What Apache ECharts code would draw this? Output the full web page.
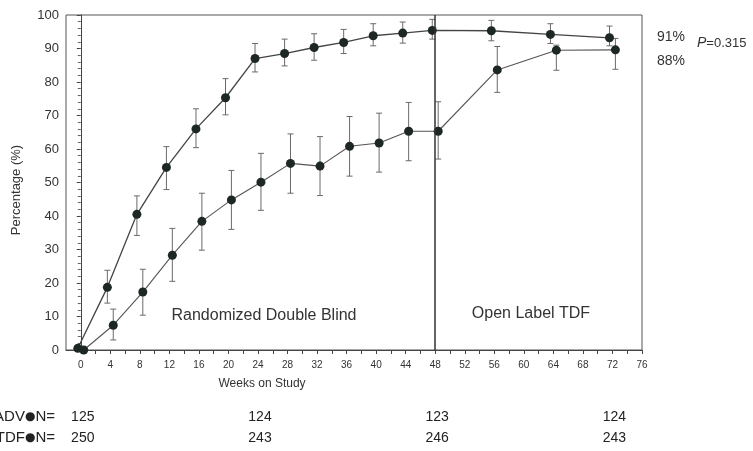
<!DOCTYPE html>
<html>
<head>
<meta charset="utf-8">
<script src="https://cdn.jsdelivr.net/npm/echarts@6/dist/echarts.min.js"></script>
<style>
html,body{margin:0;padding:0;background:#fff;}
#chart{width:753px;height:451px;}
</style>
</head>
<body>
<div id="chart"></div>
<script>
// weeks on study
var weeks = [0,4,8,12,16,20,24,28,32,36,40,44,48,56,64,72];
// TDF group (upper curve)
var tdfPct  = [0.5,18.7,40.5,54.5,66,75.3,87,88.5,90.3,91.8,93.8,94.6,95.4,95.3,94.2,93.2];
var tdfLow  = [null,14,34.2,47.9,60.4,70.2,83,84.8,86.5,88.5,90.8,91.6,92.8,92.3,91.5,90.8];
var tdfHigh = [null,23.8,46,60.7,72,81,91.5,92.8,94.4,95.7,97.4,97.9,98.7,98.4,97.4,96.7];
// ADV group (lower curve, TDF from week 48)
var advPct  = [0,7.4,17.3,28.3,38.4,44.8,50.1,55.7,54.9,60.8,61.8,65.3,65.3,83.6,89.5,89.6];
var advLow  = [null,3,10.4,20.5,29.8,36,41.7,46.8,46.1,51.9,53.1,56.5,57,76.9,83.5,83.8];
var advHigh = [null,12.2,24.1,36.3,46.8,53.6,58.7,64.5,63.7,69.7,70.7,73.9,74.1,90.6,91,93];
// x axis tick labels
var xLabels = [0,4,8,12,16,20,24,28,32,36,40,44,48,52,56,60,64,68,72,76];
var xTicks = [0,2,4,6,8,10,12,14,16,18,20,22,24,26,28,30,32,34,36,38,40,42,44,46,48,50,52,54,56,58,60,62,64,66,68,70,72,74,76];
// patients at risk
var nWeeks = [0,24,48,72];
var nADV = [125,124,123,124];
var nTDF = [250,243,246,243];

var dodge = 0.4;
var font = 'Liberation Sans, Arial, sans-serif';

function pts(vals, off){
  var r = [];
  for (var i = 0; i < weeks.length; i++) r.push([weeks[i] + off, vals[i]]);
  return r;
}
function bars(lo, hi, off){
  var r = [];
  for (var i = 0; i < weeks.length; i++){
    if (lo[i] == null) continue;
    r.push([weeks[i] + off, lo[i], hi[i]]);
  }
  return r;
}
function renderBar(params, api){
  var x = api.value(0);
  var a = api.coord([x, api.value(1)]);
  var b = api.coord([x, api.value(2)]);
  var s = {stroke:'#6a6a6a', lineWidth:1};
  return {type:'group', children:[
    {type:'line', shape:{x1:a[0],y1:a[1],x2:b[0],y2:b[1]}, style:s},
    {type:'line', shape:{x1:a[0]-3,y1:a[1],x2:a[0]+3,y2:a[1]}, style:s},
    {type:'line', shape:{x1:b[0]-3,y1:b[1],x2:b[0]+3,y2:b[1]}, style:s}
  ]};
}

var chart = echarts.init(document.getElementById('chart'));
chart.setOption({
  animation:false,
  backgroundColor:'#fff',
  grid:{left:66, right:111, top:15, bottom:101, show:true, borderColor:'#555', borderWidth:1},
  xAxis:{
    type:'value', min:-2, max:76,
    axisLine:{lineStyle:{color:'#444', width:1}},
    axisTick:{customValues:xTicks, length:4, lineStyle:{color:'#444'}},
    axisLabel:{customValues:xLabels, fontSize:10, color:'#333', margin:10, fontFamily:font},
    splitLine:{show:false}
  },
  yAxis:{
    type:'value', min:0, max:100, interval:10,
    axisLine:{show:true, lineStyle:{color:'#444', width:1}},
    axisTick:{show:true, length:4, lineStyle:{color:'#444'}},
    minorTick:{show:true, splitNumber:5, length:3, lineStyle:{color:'#666'}},
    axisLabel:{fontSize:13, color:'#333', margin:7, fontFamily:font},
    splitLine:{show:false}
  },
  series:[
    {type:'line', data:pts(tdfPct, -dodge), symbol:'circle', symbolSize:9,
     itemStyle:{color:'#1d2822'}, lineStyle:{color:'#444', width:1.3}, z:3,
     markLine:{silent:true, symbol:'none', label:{show:false},
       lineStyle:{color:'#333', width:1.5, type:'solid'}, data:[{xAxis:48}]}},
    {type:'line', data:pts(advPct, dodge), symbol:'circle', symbolSize:9,
     itemStyle:{color:'#1d2822'}, lineStyle:{color:'#555', width:1.1}, z:3},
    {type:'custom', data:bars(tdfLow, tdfHigh, -dodge), renderItem:renderBar, z:2},
    {type:'custom', data:bars(advLow, advHigh, dodge), renderItem:renderBar, z:2}
  ]
});

var g = [
  {type:'text', x:16, y:190, rotation:Math.PI/2, style:{text:'Percentage (%)', font:'13px '+font, fill:'#333', align:'center', verticalAlign:'middle'}},
  {type:'text', x:264, y:316, style:{text:'Randomized Double Blind', font:'16px '+font, fill:'#333', align:'center', verticalAlign:'middle'}},
  {type:'text', x:531, y:314, style:{text:'Open Label TDF', font:'16px '+font, fill:'#333', align:'center', verticalAlign:'middle'}},
  {type:'text', x:262, y:384, style:{text:'Weeks on Study', font:'12px '+font, fill:'#333', align:'center', verticalAlign:'middle'}},
  {type:'text', x:657, y:37, style:{text:'91%', font:'14px '+font, fill:'#333', verticalAlign:'middle'}},
  {type:'text', x:657, y:61, style:{text:'88%', font:'14px '+font, fill:'#333', verticalAlign:'middle'}},
  {type:'text', x:697, y:43, style:{text:'{i|P}=0.315', font:'13px '+font, fill:'#333', verticalAlign:'middle',
    rich:{i:{fontStyle:'italic', fontSize:14, fontFamily:font, fill:'#333'}}}},
  {type:'text', x:55, y:417, style:{text:'ADV{d|\u25CF}N=', font:'15px '+font, fill:'#222', align:'right', verticalAlign:'middle',
    rich:{d:{fontSize:12, fill:'#222', fontFamily:'DejaVu Sans'}}}},
  {type:'text', x:55, y:438, style:{text:'TDF{d|\u25CF}N=', font:'15px '+font, fill:'#222', align:'right', verticalAlign:'middle',
    rich:{d:{fontSize:12, fill:'#222', fontFamily:'DejaVu Sans'}}}}
];
for (var i = 0; i < nWeeks.length; i++){
  var px = chart.convertToPixel({xAxisIndex:0}, nWeeks[i]) + 2;
  g.push({type:'text', x:px, y:417, style:{text:String(nADV[i]), font:'14px '+font, fill:'#222', align:'center', verticalAlign:'middle'}});
  g.push({type:'text', x:px, y:438, style:{text:String(nTDF[i]), font:'14px '+font, fill:'#222', align:'center', verticalAlign:'middle'}});
}
chart.setOption({graphic:g});
</script>
</body>
</html>
